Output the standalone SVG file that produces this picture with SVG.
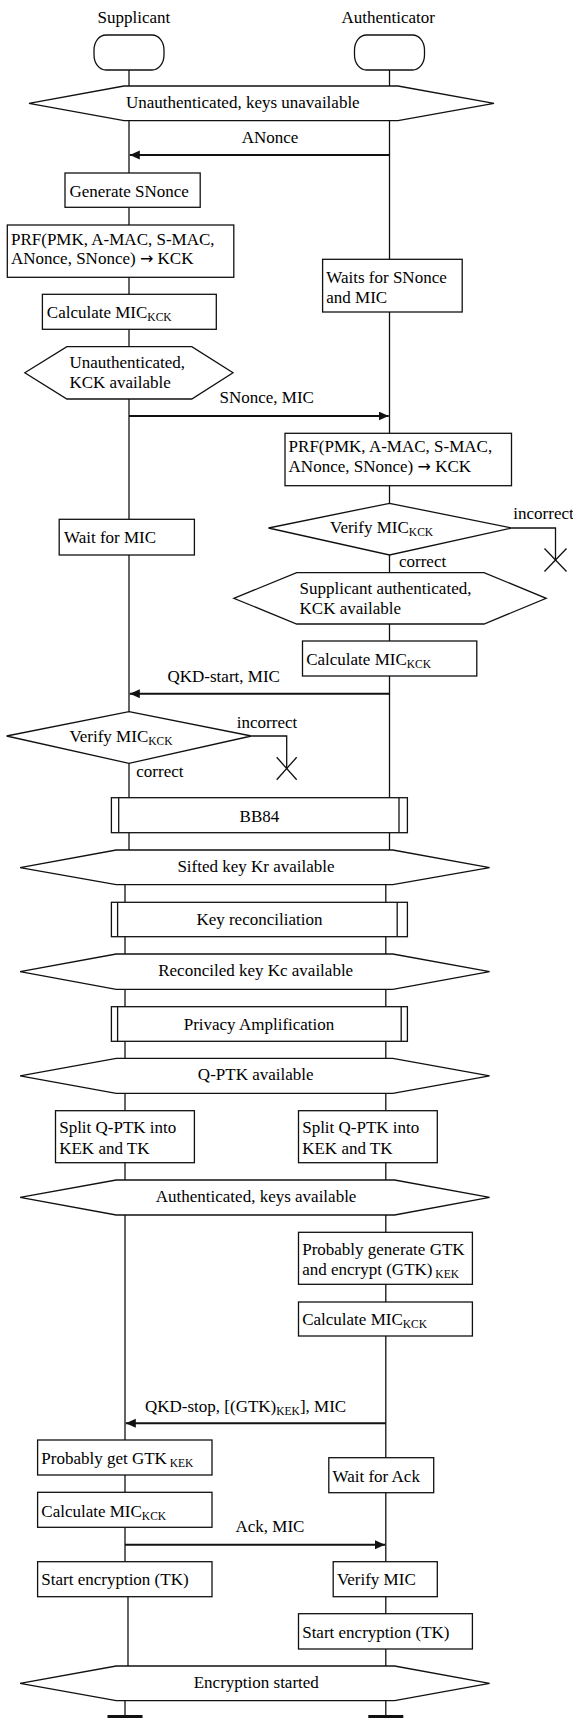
<svg xmlns="http://www.w3.org/2000/svg" width="573" height="1718" viewBox="0 0 573 1718">
  <style>
    text { font-family: "Liberation Serif", "Times New Roman", serif; font-size: 17px; fill: #000; }
    .mid { text-anchor: middle; }
    .sub { font-size: 11.5px; }
    .arr { font-family: "DejaVu Sans", sans-serif; font-size: 16px; }
    .shape { fill: #fff; stroke: #111; stroke-width: 1.3; }
    .life { fill: none; stroke: #111; stroke-width: 1.3; }
    .msg { fill: none; stroke: #111; stroke-width: 2; marker-end: url(#arrow); }
    .end { stroke: #111; stroke-width: 4; }
  </style>
  <defs>
    <marker id="arrow" markerUnits="userSpaceOnUse" markerWidth="11" markerHeight="10" refX="10" refY="4.5" orient="auto">
      <path d="M0,0 L10,4.5 L0,9 z" fill="#111"/>
    </marker>
  </defs>

  <rect width="573" height="1718" fill="#fff"/>

  <!-- lifelines and branches -->
  <g id="connectors">
    <line class="life" x1="129" y1="70" x2="129" y2="850"/>
    <line class="life" x1="125" y1="884.7" x2="125" y2="1561.7"/>
    <line class="life" x1="128" y1="1596.7" x2="128" y2="1666"/>
    <line class="life" x1="125" y1="1700.7" x2="125" y2="1716"/>
    <line class="life" x1="389.5" y1="70" x2="389.5" y2="850"/>
    <line class="life" x1="385.8" y1="884.7" x2="385.8" y2="1666"/>
    <line class="life" x1="385.8" y1="1700.7" x2="385.8" y2="1716"/>
    <line class="end" x1="107.5" y1="1717" x2="142.5" y2="1717"/>
    <line class="end" x1="368.3" y1="1717" x2="403.3" y2="1717"/>

    <!-- messages -->
    <line class="msg" x1="389.5" y1="155" x2="129.8" y2="155"/>
    <line class="msg" x1="129" y1="416" x2="388.7" y2="416"/>
    <line class="msg" x1="389.5" y1="693.7" x2="129.8" y2="693.7"/>
    <line class="msg" x1="385.8" y1="1423.3" x2="125.8" y2="1423.3"/>
    <line class="msg" x1="125" y1="1544.7" x2="385" y2="1544.7"/>

    <!-- failed verification branches -->
    <polyline class="life" points="511.5,528 555.5,528 555.5,560"/>
    <line class="life" x1="544.5" y1="548.5" x2="566.5" y2="571.5"/>
    <line class="life" x1="566.5" y1="548.5" x2="544.5" y2="571.5"/>
    <polyline class="life" points="251.4,736 286.7,736 286.7,768.5"/>
    <line class="life" x1="276.7" y1="757.3" x2="296.7" y2="779.7"/>
    <line class="life" x1="296.7" y1="757.3" x2="276.7" y2="779.7"/>
  </g>

  <!-- message labels -->
  <g id="labels">
    <text class="mid" x="270" y="143">ANonce</text>
    <text class="mid" x="266.7" y="403.3">SNonce, MIC</text>
    <text class="mid" x="223.7" y="681.7">QKD-start, MIC</text>
    <text x="145" y="1411.7">QKD-stop, [(GTK)<tspan class="sub" dy="3">KEK</tspan><tspan dy="-3">], MIC</tspan></text>
    <text class="mid" x="270" y="1531.7">Ack, MIC</text>
    <text x="513.3" y="519">incorrect</text>
    <text x="399" y="566.7">correct</text>
    <text x="236.8" y="728.3">incorrect</text>
    <text x="136.3" y="776.7">correct</text>
  </g>

  <!-- actors -->
  <g id="supplicant">
    <text class="mid" x="133.9" y="22.5">Supplicant</text>
    <rect class="shape" x="94" y="35" width="70" height="35" rx="12" ry="15"/>
  </g>
  <g id="authenticator">
    <text class="mid" x="388.2" y="22.5">Authenticator</text>
    <rect class="shape" x="354.5" y="35" width="70" height="35" rx="12" ry="15"/>
  </g>

  <g id="state-unauth">
    <polygon class="shape" points="29,103.3 124,86 398,86 494,103.3 398,120.7 124,120.7"/>
    <text x="126" y="108">Unauthenticated, keys unavailable</text>
  </g>

  <g id="gen-snonce">
    <rect class="shape" x="65" y="173" width="135.2" height="34.3"/>
    <text x="69.4" y="197">Generate SNonce</text>
  </g>

  <g id="prf-supp">
    <rect class="shape" x="7.3" y="225" width="226.5" height="52.3"/>
    <text x="11" y="245.3">PRF(PMK, A-MAC, S-MAC,</text>
    <text x="11" y="264.3">ANonce, SNonce) <tspan class="arr">→</tspan> KCK</text>
  </g>

  <g id="mic-supp">
    <rect class="shape" x="42.4" y="294.3" width="173.9" height="35"/>
    <text x="46.8" y="318.3">Calculate MIC<tspan class="sub" dy="3">KCK</tspan></text>
  </g>

  <g id="state-kck-supp">
    <polygon class="shape" points="24.8,372.7 66.9,346.7 191.8,346.7 233,372.7 191.8,399 66.9,399"/>
    <text x="69.4" y="368.3">Unauthenticated,</text>
    <text x="69.4" y="388.3">KCK available</text>
  </g>

  <g id="wait-snonce">
    <rect class="shape" x="322.6" y="259.3" width="139.6" height="52.7"/>
    <text x="326.3" y="283.3">Waits for SNonce</text>
    <text x="326.3" y="303.3">and MIC</text>
  </g>

  <g id="prf-auth">
    <rect class="shape" x="285" y="433.3" width="226.5" height="52.4"/>
    <text x="288.6" y="451.7">PRF(PMK, A-MAC, S-MAC,</text>
    <text x="288.6" y="471.7">ANonce, SNonce) <tspan class="arr">→</tspan> KCK</text>
  </g>

  <g id="verify-auth">
    <polygon class="shape" points="389.5,503.3 511.5,528 389.5,555 268.5,528"/>
    <text x="330" y="533.3">Verify MIC<tspan class="sub" dy="3">KCK</tspan></text>
  </g>

  <g id="wait-mic">
    <rect class="shape" x="59.2" y="519.3" width="135.2" height="35.7"/>
    <text x="64" y="543.3">Wait for MIC</text>
  </g>

  <g id="state-supp-auth">
    <polygon class="shape" points="233.8,598.3 296.7,572.7 484,572.7 546.2,598.3 484,624 296.7,624"/>
    <text x="299.6" y="594">Supplicant authenticated,</text>
    <text x="299.6" y="614">KCK available</text>
  </g>

  <g id="mic-auth">
    <rect class="shape" x="302.5" y="641" width="174.3" height="35"/>
    <text x="306.2" y="665">Calculate MIC<tspan class="sub" dy="3">KCK</tspan></text>
  </g>

  <g id="verify-supp">
    <polygon class="shape" points="129,711.7 251.4,736 129,763.3 6.6,736"/>
    <text x="69.4" y="741.7">Verify MIC<tspan class="sub" dy="3">KCK</tspan></text>
  </g>

  <g id="bb84">
    <rect class="shape" x="111.4" y="797.7" width="296" height="35"/>
    <line class="life" x1="118.7" y1="797.7" x2="118.7" y2="832.7"/>
    <line class="life" x1="399" y1="797.7" x2="399" y2="832.7"/>
    <text class="mid" x="259.4" y="821.7">BB84</text>
  </g>

  <g id="state-sifted">
    <polygon class="shape" points="20.1,867.7 116.2,850 392.8,850 489.6,867.7 392.8,884.7 116.2,884.7"/>
    <text class="mid" x="256" y="872.3">Sifted key Kr available</text>
  </g>

  <g id="reconciliation">
    <rect class="shape" x="111.4" y="902.3" width="296" height="34.4"/>
    <line class="life" x1="117.6" y1="902.3" x2="117.6" y2="936.7"/>
    <line class="life" x1="397.2" y1="902.3" x2="397.2" y2="936.7"/>
    <text class="mid" x="259.4" y="925">Key reconciliation</text>
  </g>

  <g id="state-reconciled">
    <polygon class="shape" points="20.1,971.7 116.2,954 392.8,954 489.6,971.7 392.8,989.3 116.2,989.3"/>
    <text class="mid" x="255.7" y="976">Reconciled key Kc available</text>
  </g>

  <g id="privacy">
    <rect class="shape" x="111.4" y="1006.7" width="296" height="34.6"/>
    <line class="life" x1="117.6" y1="1006.7" x2="117.6" y2="1041.3"/>
    <line class="life" x1="401.2" y1="1006.7" x2="401.2" y2="1041.3"/>
    <text class="mid" x="259" y="1030">Privacy Amplification</text>
  </g>

  <g id="state-qptk">
    <polygon class="shape" points="20.1,1075.8 116.2,1058.3 392.8,1058.3 489.6,1075.8 392.8,1093.3 116.2,1093.3"/>
    <text class="mid" x="255.7" y="1080">Q-PTK available</text>
  </g>

  <g id="split-supp">
    <rect class="shape" x="55.5" y="1110.7" width="138.9" height="52"/>
    <text x="59.2" y="1133.3">Split Q-PTK into</text>
    <text x="59.2" y="1154">KEK and TK</text>
  </g>

  <g id="split-auth">
    <rect class="shape" x="298.5" y="1110.7" width="138.8" height="52"/>
    <text x="302.2" y="1133.3">Split Q-PTK into</text>
    <text x="302.2" y="1154">KEK and TK</text>
  </g>

  <g id="state-authenticated">
    <polygon class="shape" points="20.1,1197.3 116.2,1180 394.6,1180 489.6,1197.3 394.6,1215 116.2,1215"/>
    <text class="mid" x="256.1" y="1201.7">Authenticated, keys available</text>
  </g>

  <g id="gen-gtk">
    <rect class="shape" x="298.5" y="1232.3" width="173.9" height="52"/>
    <text x="302.2" y="1255">Probably generate GTK</text>
    <text x="302.2" y="1275">and encrypt (GTK)<tspan class="sub" dy="3"> KEK</tspan></text>
  </g>

  <g id="mic-auth-2">
    <rect class="shape" x="298.5" y="1302" width="173.9" height="34"/>
    <text x="302.2" y="1325">Calculate MIC<tspan class="sub" dy="3">KCK</tspan></text>
  </g>

  <g id="get-gtk">
    <rect class="shape" x="37.6" y="1440" width="174.4" height="35"/>
    <text x="41.3" y="1464">Probably get GTK<tspan class="sub" dy="3"> KEK</tspan></text>
  </g>

  <g id="wait-ack">
    <rect class="shape" x="328.8" y="1457.7" width="104.9" height="35"/>
    <text x="332.5" y="1481.7">Wait for Ack</text>
  </g>

  <g id="mic-supp-2">
    <rect class="shape" x="37.6" y="1492.3" width="174.4" height="35"/>
    <text x="41.3" y="1517.3">Calculate MIC<tspan class="sub" dy="3">KCK</tspan></text>
  </g>

  <g id="start-enc-supp">
    <rect class="shape" x="37.6" y="1561.7" width="174.4" height="35"/>
    <text x="41.3" y="1585">Start encryption (TK)</text>
  </g>

  <g id="verify-mic-auth">
    <rect class="shape" x="333.2" y="1561.7" width="104.1" height="35"/>
    <text x="336.9" y="1585">Verify MIC</text>
  </g>

  <g id="start-enc-auth">
    <rect class="shape" x="298.5" y="1613.7" width="173.9" height="35.3"/>
    <text x="302.2" y="1638.3">Start encryption (TK)</text>
  </g>

  <g id="state-encrypted">
    <polygon class="shape" points="20.1,1683.3 116.2,1666 394.6,1666 489.6,1683.3 394.6,1700.7 116.2,1700.7"/>
    <text class="mid" x="256.3" y="1688.3">Encryption started</text>
  </g>
</svg>
